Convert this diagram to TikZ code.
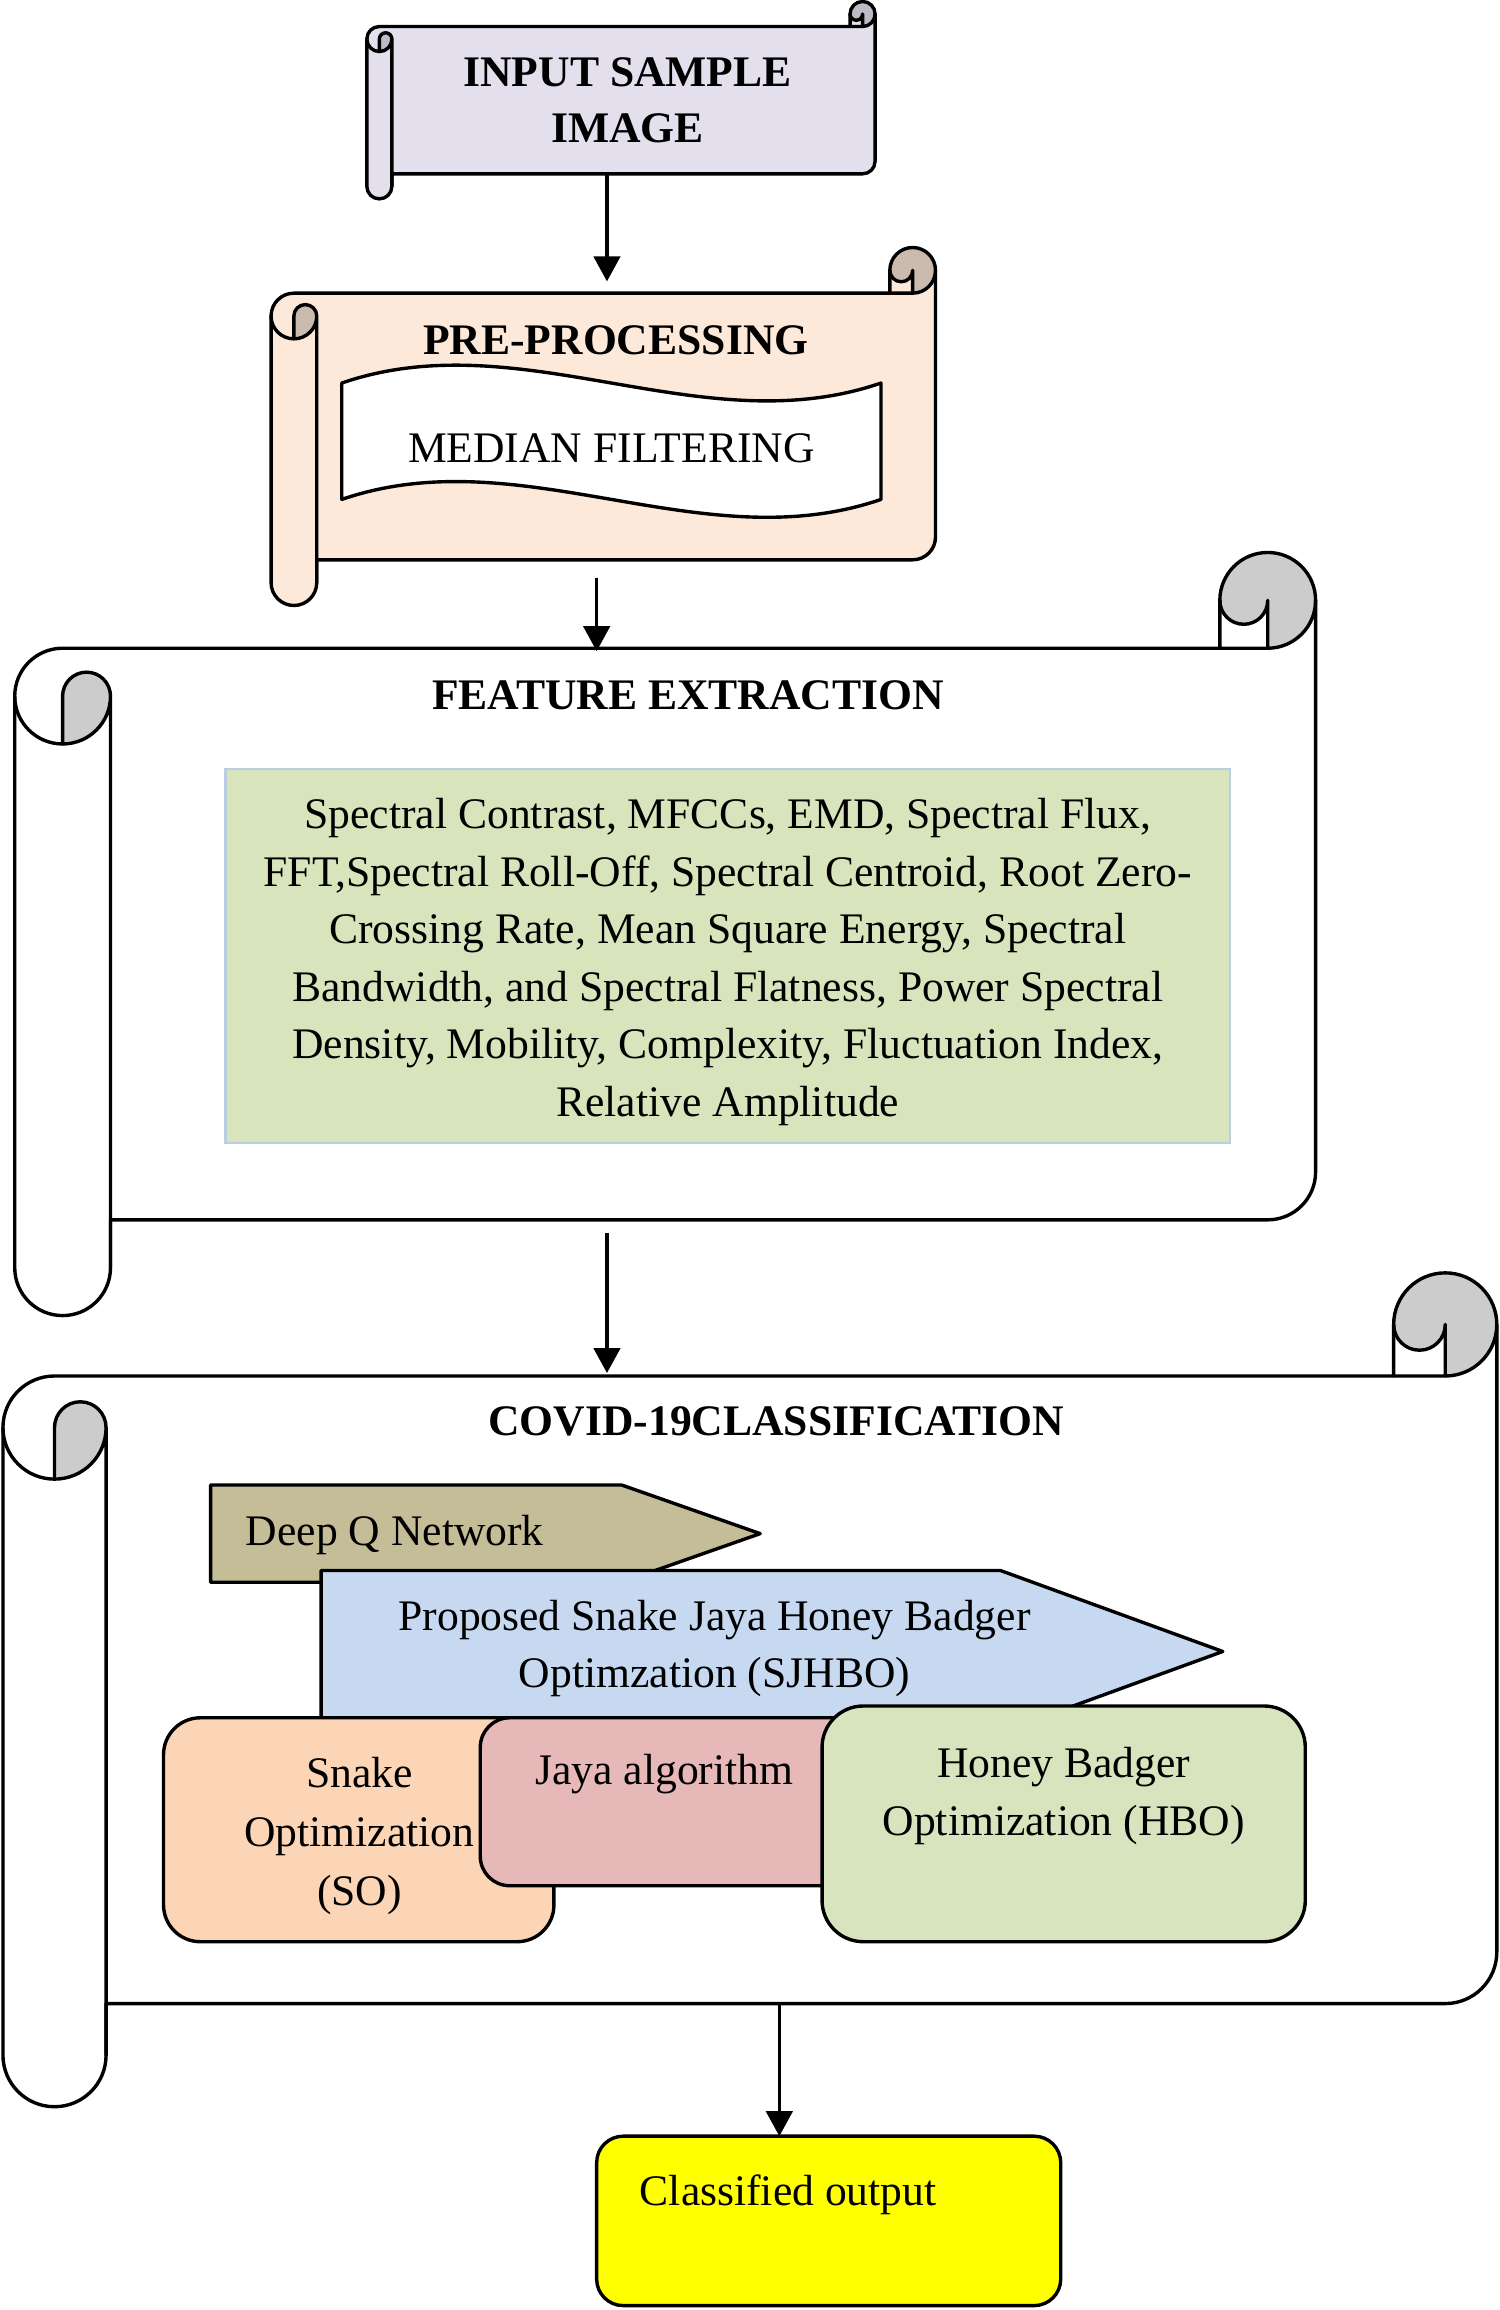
\documentclass[tikz,border=0pt]{standalone}
\usepackage{fontspec}
\setmainfont{Liberation Serif}
\usetikzlibrary{arrows.meta}
\definecolor{lav}{HTML}{E4DFEC}
\definecolor{lavg}{HTML}{BFBAC8}
\definecolor{peach}{HTML}{FDE9D9}
\definecolor{peachg}{HTML}{CBBBAE}
\definecolor{grayc}{HTML}{CCCCCC}
\definecolor{feg}{HTML}{D8E4BC}
\definecolor{febd}{HTML}{B9CDE5}
\definecolor{dqn}{HTML}{C4BD97}
\definecolor{sjh}{HTML}{C6D9F1}
\definecolor{soc}{HTML}{FBD5B5}
\definecolor{jayac}{HTML}{E6B9B8}
\definecolor{hboc}{HTML}{D7E4BD}
\definecolor{yel}{HTML}{FFFF00}

% horizontal scroll: #1 left, #2 right, #3 body top, #4 bottom of roll, #5 roll width, #6 fill, #7 curl fill
\newcommand\myscroll[7]{%
\begin{scope}
\pgfmathsetmacro\sL{#1}
\pgfmathsetmacro\sR{#2}
\pgfmathsetmacro\sT{#3}
\pgfmathsetmacro\sB{#4}
\pgfmathsetmacro\sC{#5}
\pgfmathsetmacro\sCh{#5/2}
\pgfmathsetmacro\sCq{#5/4}
\pgfmathsetmacro\sTop{#3-#5}
\fill[#6] (\sL,\sT+\sCh) arc[start angle=180,end angle=270,radius=\sCh]
  -- (\sR-\sC,\sT) -- (\sR-\sC,\sTop+\sCh)
  arc[start angle=180,end angle=360,radius=\sCh]
  -- (\sR,\sB-\sC-\sCh) arc[start angle=0,end angle=90,radius=\sCh]
  -- (\sL+\sC,\sB-\sC) -- (\sL+\sC,\sB-\sCh)
  arc[start angle=0,end angle=180,radius=\sCh] -- cycle;
\fill[#7] (\sL+\sCh,\sT+\sC) arc[start angle=90,end angle=0,radius=\sCh]
  arc[start angle=0,end angle=-180,radius=\sCq] -- cycle;
\fill[#7] (\sR-\sC,\sTop+\sCh) arc[start angle=180,end angle=450,radius=\sCh]
  -- (\sR-\sCh,\sTop+\sCh) arc[start angle=0,end angle=180,radius=\sCq] -- cycle;
\draw[outl] (\sL,\sT+\sCh) arc[start angle=180,end angle=270,radius=\sCh]
  -- (\sR-\sC,\sT) -- (\sR-\sC,\sTop+\sCh)
  arc[start angle=180,end angle=360,radius=\sCh]
  -- (\sR,\sB-\sC-\sCh) arc[start angle=0,end angle=90,radius=\sCh]
  -- (\sL+\sC,\sB-\sC) -- (\sL+\sC,\sB-\sCh)
  arc[start angle=0,end angle=180,radius=\sCh] -- cycle;
\draw[outl] (\sL,\sT+\sCh) arc[start angle=180,end angle=0,radius=\sCh] -- (\sL+\sC,\sB-\sCh);
\draw[outl] (\sL+\sCh,\sT+\sC) -- (\sL+\sCh,\sT+\sCh) arc[start angle=180,end angle=360,radius=\sCq];
\draw[outl] (\sR-\sC,\sT) -- (\sR-\sCh,\sT) -- (\sR-\sCh,\sTop+\sCh) arc[start angle=0,end angle=180,radius=\sCq];
\draw[outl] (\sR,\sTop+\sCh) arc[start angle=0,end angle=90,radius=\sCh];
\end{scope}}

\begin{document}
\begin{tikzpicture}[x=1pt,y=1pt,yscale=-1,
  lbl/.style={inner sep=0pt,align=center,font=\fontsize{29.6}{39}\selectfont},
  ttl/.style={inner sep=0pt,align=center,font=\fontsize{29.6}{38}\selectfont\bfseries},
  outl/.style={draw=black,line width=2.3pt,line join=round,line cap=round},
  arr/.style={line width=2.2pt,-{Triangle[width=18pt,length=17pt]}},
  rbox/.style={outl,rounded corners=#1},
]
\useasboundingbox (0,0) rectangle (1018,1568);
\fill[white] (0,0) rectangle (1018,1568);

% ---- input sample image
\myscroll{249}{594}{18}{135}{17}{lav}{lavg}
\node[ttl] (input) at (426,68) {INPUT SAMPLE\\IMAGE};

% ---- pre-processing
\myscroll{184}{635}{199}{411}{31}{peach}{peachg}
\node[ttl] (pptitle) at (418,231) {PRE-PROCESSING};
\path[outl,fill=white] (232,260) .. controls (354,218) and (476,302) .. (598,260)
  -- (598,339) .. controls (476,381) and (354,297) .. (232,339) -- cycle;
\node[lbl] (median) at (415,304) {MEDIAN FILTERING};

% ---- feature extraction
\myscroll{10}{893}{440}{893}{65}{white}{grayc}
\node[ttl] (fetitle) at (467,472) {FEATURE EXTRACTION};
\path[fill=feg,draw=febd,line width=1.6pt] (153,522) rectangle (835,776);
\node[lbl] (features) at (494,653) {Spectral Contrast, MFCCs, EMD, Spectral Flux,\\
FFT,Spectral Roll-Off, Spectral Centroid, Root Zero-\\
Crossing Rate, Mean Square Energy, Spectral\\
Bandwidth, and Spectral Flatness, Power Spectral\\
Density, Mobility, Complexity, Fluctuation Index,\\
Relative Amplitude};

% ---- covid classification
\myscroll{2}{1016}{934}{1430}{70}{white}{grayc}
\node[ttl] (cvtitle) at (527,965) {COVID-19CLASSIFICATION};
\path[outl,fill=dqn] (143,1008) -- (422,1008) -- (516,1041) -- (422,1074) -- (143,1074) -- cycle;
\node[lbl] (dqnt) at (268,1042) {Deep Q Network};
\path[outl,fill=sjh] (218,1066) -- (679,1066) -- (830,1121) -- (679,1176) -- (218,1176) -- cycle;
\node[lbl] (sjhbo) at (485,1119) {Proposed Snake Jaya Honey Badger\\Optimzation (SJHBO)};
\path[rbox=25,fill=soc] (111,1166) rectangle (376,1318);
\node[lbl,font=\fontsize{29.6}{40}\selectfont] (so) at (244,1246) {Snake\\Optimization\\(SO)};
\path[rbox=20,fill=jayac] (326,1166) rectangle (610,1280);
\node[lbl] (jaya) at (451,1204) {Jaya algorithm};
\path[rbox=28,fill=hboc] (558,1158) rectangle (886,1318);
\node[lbl] (hbo) at (722,1219) {Honey Badger\\Optimization (HBO)};

% ---- output
\path[rbox=18,fill=yel] (405,1450) rectangle (720,1565);
\node[lbl] (out) at (535,1490) {Classified output};

% ---- connectors
\coordinate (a1s) at (412,118); \coordinate (a1e) at (412,191);
\coordinate (a2s) at (405,392); \coordinate (a2e) at (405,442);
\coordinate (a3s) at (412,837); \coordinate (a3e) at (412,932);
\coordinate (a4s) at (529,1359); \coordinate (a4e) at (529,1450);
\draw[arr] (a1s) -- (a1e);
\draw[arr] (a2s) -- (a2e);
\draw[arr] (a3s) -- (a3e);
\draw[arr] (a4s) -- (a4e);
\end{tikzpicture}
\end{document}
